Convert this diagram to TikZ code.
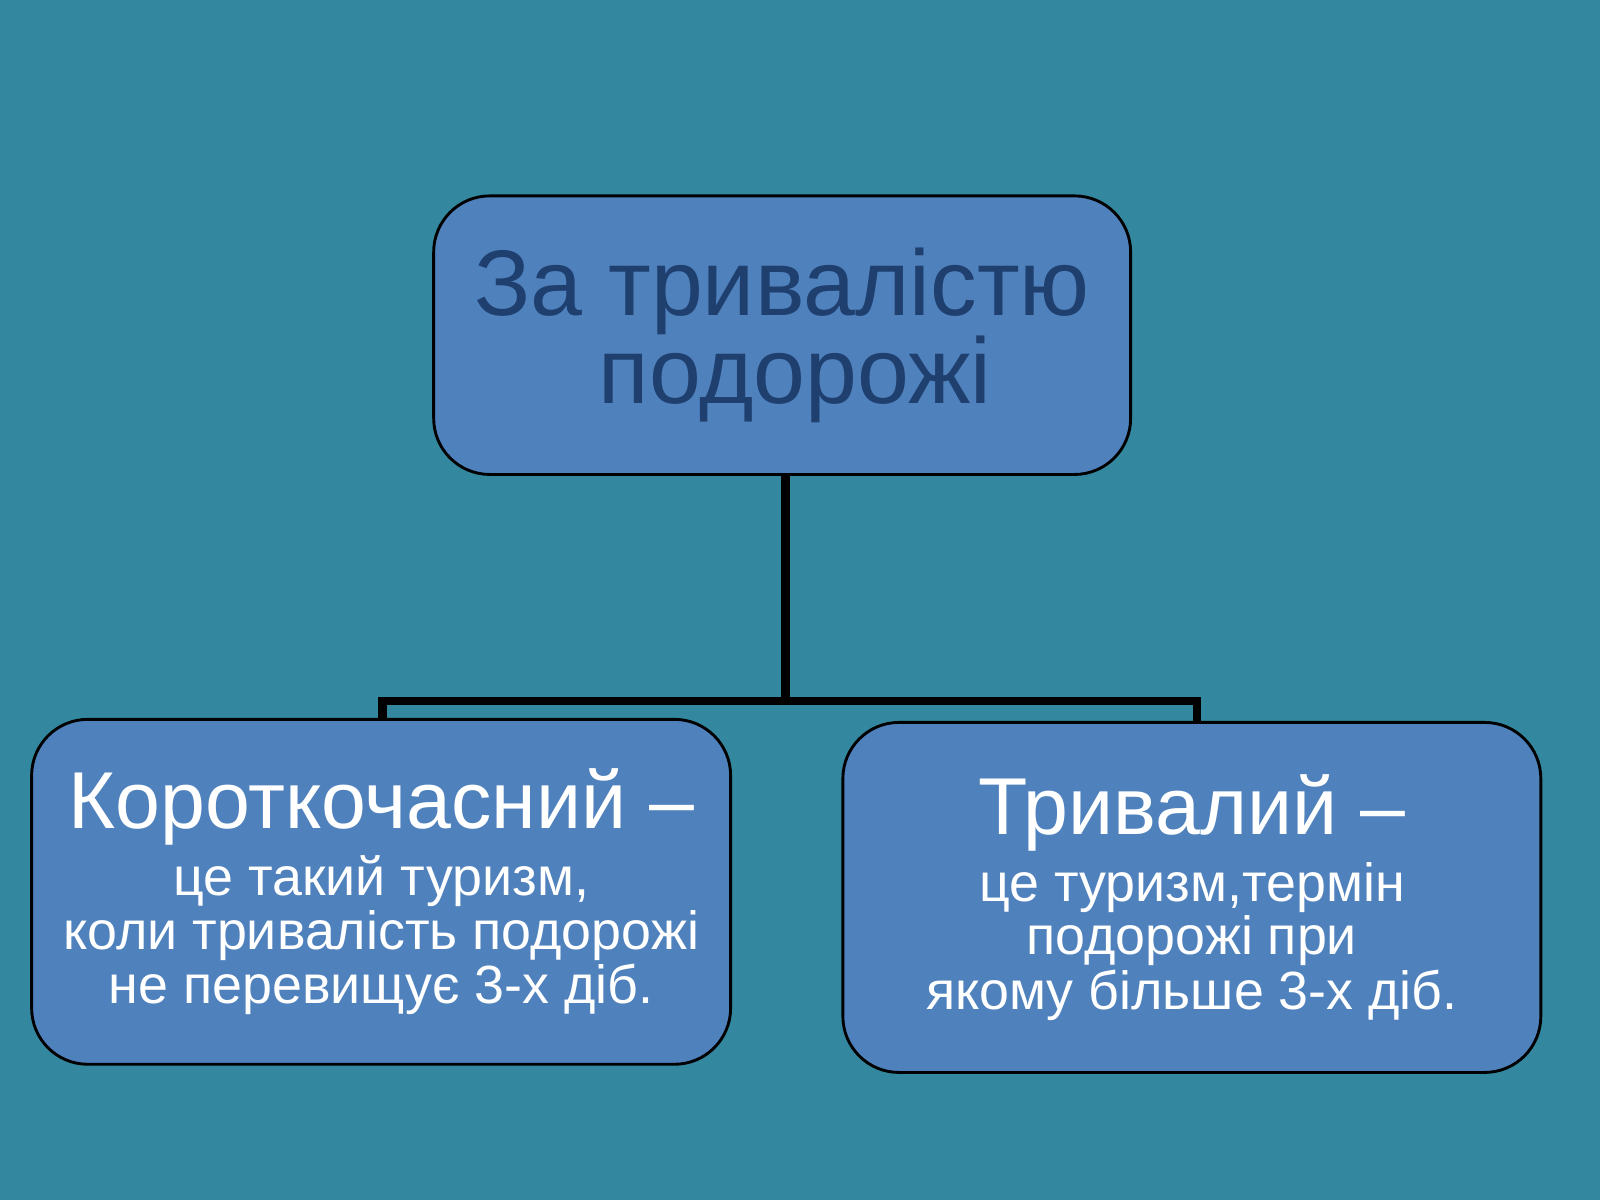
\documentclass[tikz,border=0pt]{standalone}
\usepackage{fontspec}
\setmainfont{Liberation Sans}
\usetikzlibrary{positioning}
\definecolor{bgteal}{HTML}{33879E}
\definecolor{boxblue}{HTML}{4F81BD}
\definecolor{darktext}{HTML}{1F3F6E}
\tikzset{
  box/.style={draw=black, fill=boxblue, rounded corners=0.55cm, line width=0.8pt, minimum width=6.85cm, inner xsep=0pt, align=center},
  link/.style={line width=2.4pt}
}
\newcommand{\bodyfont}{\fontsize{15}{19.5}\selectfont}
\newcommand{\headfont}{\fontsize{22.5}{26}\selectfont}
\begin{document}
\begin{tikzpicture}
\fill[bgteal] (0,0) rectangle (15.68,11.76);
\useasboundingbox (0,0) rectangle (15.68,11.76);
\node[box, minimum width=6.83cm, minimum height=2.73cm, text=darktext, font=\fontsize{26}{28.5}\selectfont] (top) at (7.665,8.475) {\raisebox{-4pt}{За тривалістю}\\ \ подорожі};
\node[box, minimum height=3.38cm, text=white] (short) at (3.735,3.02) {{\headfont Короткочасний –}\\[2pt]
  {\bodyfont це такий туризм,}\\
  {\bodyfont коли тривалість подорожі}\\
  {\bodyfont не перевищує 3-х діб.}};
\node[box, minimum width=6.84cm, minimum height=3.43cm, text=white] (long) at (11.68,2.965) {{\headfont Тривалий –}\\[2pt]
  {\bodyfont це туризм,термін}\\
  {\bodyfont подорожі при}\\
  {\bodyfont якому більше 3-х діб.}};
\coordinate (mid) at (7.7,4.89);
\draw[link] (top.south -| mid) -- (mid);
\draw[link] (short.north -| 3.75,0) |- (mid) -| (long.north -| 11.73,0);
\end{tikzpicture}
\end{document}
